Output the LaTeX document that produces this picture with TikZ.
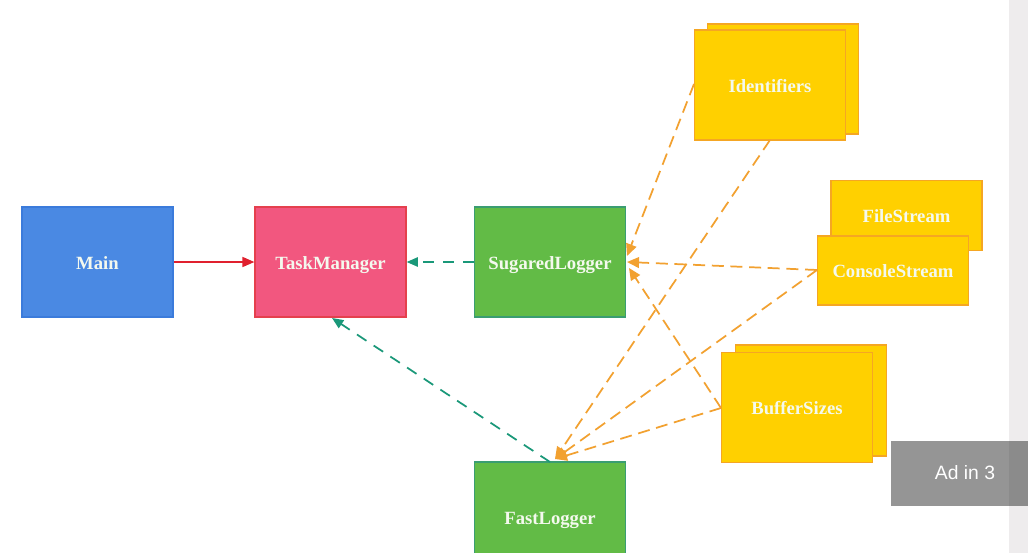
\documentclass[tikz,border=0pt]{standalone}
\usepackage{fontspec}
\setmainfont{Liberation Serif}
\newfontfamily\adfont{Liberation Sans}
\usetikzlibrary{arrows.meta}
\definecolor{mainblue}{HTML}{4A89E3}
\definecolor{mainborder}{HTML}{3B7BDB}
\definecolor{taskpink}{HTML}{F2577F}
\definecolor{taskborder}{HTML}{E5404E}
\definecolor{loggreen}{HTML}{62BB46}
\definecolor{logborder}{HTML}{3A9D72}
\definecolor{boxyellow}{HTML}{FFD000}
\definecolor{yborder}{HTML}{F5A623}
\definecolor{linorange}{HTML}{F2A130}
\definecolor{linteal}{HTML}{1A9879}
\definecolor{linred}{HTML}{E0202E}
\definecolor{labelwhite}{HTML}{F4F9EE}
\definecolor{adgray}{HTML}{959595}
\definecolor{addark}{HTML}{8B8B8B}
\definecolor{barcol}{HTML}{EEECED}
\begin{document}
\begin{tikzpicture}[x=0.75pt,y=-0.75pt,
  box/.style={draw, line width=0.9pt, minimum width=113.25pt, minimum height=82.5pt,
    inner sep=0pt, text height=11pt, text depth=0.3pt,
    font=\fontsize{14}{16}\selectfont\bfseries, text=labelwhite},
  ybox/.style={box, fill=boxyellow, draw=yborder},
  oarrow/.style={draw=linorange, line width=1.3pt, dash pattern=on 9pt off 5pt,
    -{Triangle[length=9pt,width=8pt]}},
  tarrow/.style={draw=linteal, line width=1.3pt, dash pattern=on 8.5pt off 6.5pt,
    -{Triangle[length=8.5pt,width=7pt]}},
  rarrow/.style={draw=linred, line width=1.2pt, -{Triangle[length=9pt,width=7.5pt]}}
]
\clip (0,0) rectangle (1028,553);
\fill[white] (0,0) rectangle (1028,553);
\fill[barcol] (1009,0) rectangle (1028,553);

% main nodes
\node[box, fill=mainblue, draw=mainborder] (main) at (97.5,262) {Main};
\node[box, fill=taskpink, draw=taskborder] (tm) at (330.5,262) {TaskManager};
\node[box, fill=loggreen, draw=logborder] (sug) at (550,262) {SugaredLogger};
\node[box, fill=loggreen, draw=logborder] (fast) at (550,517) {FastLogger};

% stacked yellow nodes
\node[ybox] (identback) at (783,79) {};
\node[ybox] (ident) at (770,85) {Identifiers};
\node[ybox, minimum height=52.5pt] (file) at (906.5,215.5) {FileStream};
\node[ybox, minimum height=51.75pt] (cons) at (893,270.5) {ConsoleStream};
\node[ybox, minimum height=83.25pt] (bufback) at (811,400.5) {};
\node[ybox] (buf) at (797,407.5) {BufferSizes};

% connector end points
\coordinate (identW) at (694,84);
\coordinate (identS) at (770,140);
\coordinate (consW) at (817,270);
\coordinate (bufW) at (721,408);
\coordinate (s1) at (627,256);
\coordinate (s2) at (627,262);
\coordinate (s3) at (629,268);
\coordinate (f1) at (555,459);
\coordinate (fastTop) at (550,462);
\coordinate (tmB) at (332,318);

% connectors
\draw[rarrow] (main) -- (tm);
\draw[tarrow] (sug) -- (tm);
\draw[tarrow] (fastTop) -- (tmB);
\draw[oarrow] (identW) -- (s1);
\draw[oarrow] (consW) -- (s2);
\draw[oarrow] (bufW) -- (s3);
\draw[oarrow] (identS) -- (f1);
\draw[oarrow] (consW) -- (f1);
\draw[oarrow] (bufW) -- (f1);

% overlay
\fill[adgray] (891,441) rectangle (1028,506);
\fill[addark] (1009,441) rectangle (1028,506);
\node[font=\adfont\fontsize{14.5}{17}\selectfont, text=white] (ad) at (965,473) {Ad in 3};
\end{tikzpicture}
\end{document}
